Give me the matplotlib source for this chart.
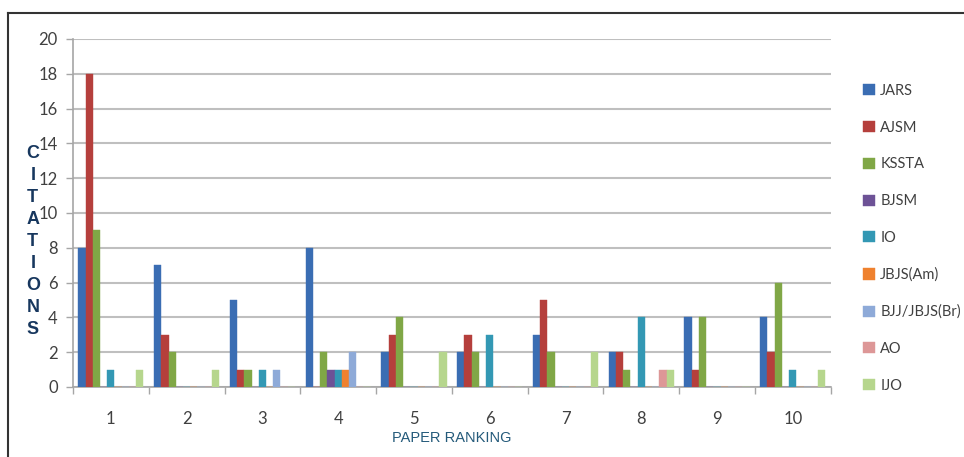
import matplotlib.pyplot as plt
import numpy as np

ranks = np.arange(1, 11)
journals = ["JARS", "AJSM", "KSSTA", "BJSM", "IO", "JBJS(Am)", "BJJ/JBJS(Br)", "AO", "IJO"]

# citations per paper ranking (1..10) for each journal
jars = [8, 7, 5, 8, 2, 2, 3, 2, 4, 4]
ajsm = [18, 3, 1, 0, 3, 3, 5, 2, 1, 2]
kssta = [9, 2, 1, 2, 4, 2, 2, 1, 4, 6]
bjsm = [0, 0, 0, 1, 0, 0, 0, 0, 0, 0]
io = [1, 0, 1, 1, 0, 3, 0, 4, 0, 1]
jbjs_am = [0, 0, 0, 1, 0, 0, 0, 0, 0, 0]
bjj_br = [0, 0, 1, 2, 0, 0, 0, 0, 0, 0]
ao = [0, 0, 0, 0, 0, 0, 0, 1, 0, 0]
ijo = [1, 1, 0, 0, 2, 0, 2, 1, 0, 1]

series = [jars, ajsm, kssta, bjsm, io, jbjs_am, bjj_br, ao, ijo]
colors = ["#3a6db3", "#b53f3c", "#80a746", "#6d5296", "#3398b4",
          "#ef812e", "#8eaad8", "#dd9797", "#b6d68d"]

fig = plt.figure(figsize=(9.64, 4.57), dpi=100)
ax = fig.add_axes([0.0757, 0.1532, 0.786, 0.7615])

width = 0.0955
offsets = (np.arange(len(series)) - (len(series) - 1) / 2) * width
for vals, off, col, name in zip(series, offsets, colors, journals):
    ax.bar(ranks + off, vals, width=width, color=col, label=name,
           edgecolor=col, linewidth=0.3, zorder=3)

ax.set_xlim(0.5, 10.5)
ax.set_ylim(0, 20)
ax.set_yticks(np.arange(0, 21, 2))
ax.set_xticks(ranks)
ax.set_xticks(np.arange(0.5, 11, 1), minor=True)
ax.tick_params(axis="x", which="major", length=0, pad=17)
ax.tick_params(axis="x", which="minor", length=5, color="#a6a6a6", width=1)
ax.tick_params(axis="y", length=5, color="#a6a6a6", width=1, pad=6)
for lab in ax.get_xticklabels() + ax.get_yticklabels():
    lab.set_fontfamily("Lato")
    lab.set_fontsize(12)
    lab.set_color("#404040")

ax.grid(axis="y", color="#bfbfbf", linewidth=1.5, zorder=0)
for side in ["top", "right"]:
    ax.spines[side].set_visible(False)
for side in ["left", "bottom"]:
    ax.spines[side].set_color("#a6a6a6")
    ax.spines[side].set_linewidth(1.2)

ax.set_xlabel("PAPER RANKING", family="Liberation Sans", fontsize=10.5,
              color="#245a7a", labelpad=3)
fig.text(0.034, 0.472, "\n".join("CITATIONS"), ha="center", va="center",
         family="Liberation Sans", fontsize=13, fontweight="bold",
         color="#17375e", linespacing=1.38)

fig.legend(loc="upper left", bbox_to_anchor=(0.882, 0.845), frameon=False,
           prop={"family": "Lato", "size": 10.5}, handlelength=0.8,
           handleheight=0.8, handletextpad=0.35, labelspacing=1.56)
for txt in fig.legends[0].get_texts():
    txt.set_color("#404040")

# frame lines along the top and left edge
fig.add_artist(plt.Line2D([0.0083, 1.0], [0.9726, 0.9726], color="#333333",
                          linewidth=1.5, transform=fig.transFigure))
fig.add_artist(plt.Line2D([0.0083, 0.0083], [0.0, 0.9726], color="#333333",
                          linewidth=1.5, transform=fig.transFigure))

fig.savefig("out.png", dpi=100)
